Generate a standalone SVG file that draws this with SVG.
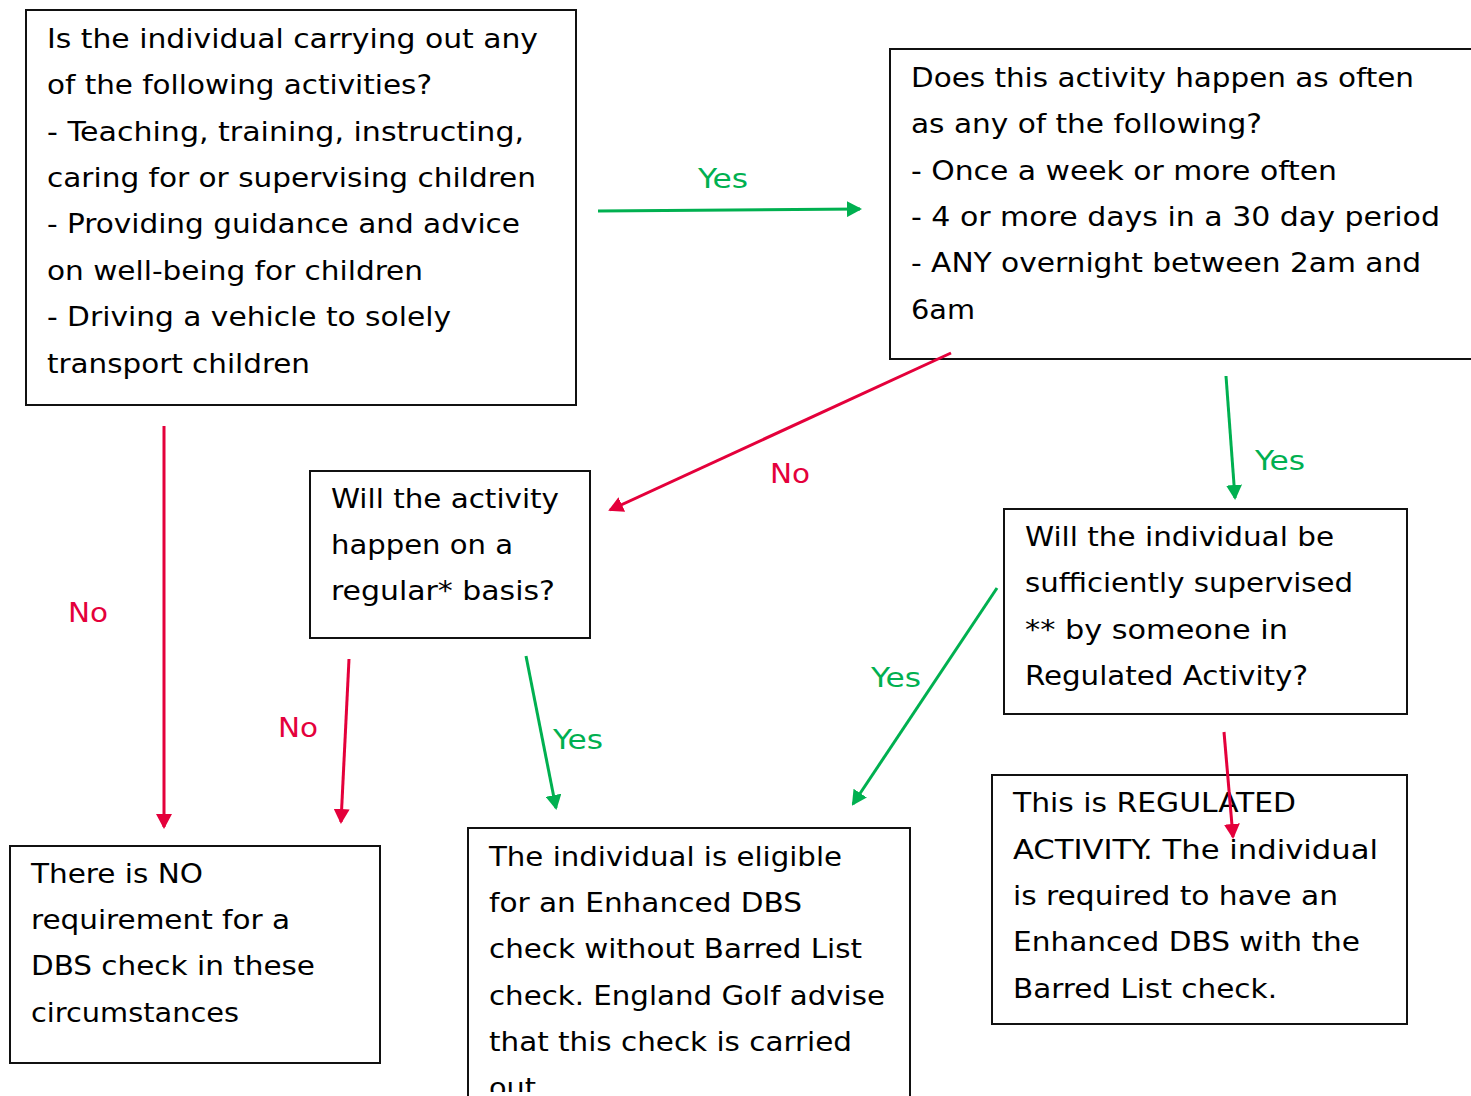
<svg xmlns="http://www.w3.org/2000/svg" width="1471" height="1096" viewBox="0 0 1471 1096">
<style>
.box{fill:#fff;stroke:#111;stroke-width:2}
.t{font-family:"DejaVu Sans Condensed","DejaVu Sans","Liberation Sans",sans-serif;font-size:26px;fill:#000}
.lbl{font-family:"DejaVu Sans Condensed","DejaVu Sans","Liberation Sans",sans-serif;font-size:26px}
.g{fill:#00B050}
.r{fill:#E4003B}
.lg{stroke:#00B050;stroke-width:3;fill:none}
.lr{stroke:#E4003B;stroke-width:3;fill:none}
</style>
<defs>
<marker id="ag" markerUnits="userSpaceOnUse" viewBox="0 0 15 16" markerWidth="15" markerHeight="16" refX="13" refY="8" orient="auto"><path d="M0,0 L15,8 L0,16 z" fill="#00B050"/></marker>
<marker id="ar" markerUnits="userSpaceOnUse" viewBox="0 0 15 16" markerWidth="15" markerHeight="16" refX="13" refY="8" orient="auto"><path d="M0,0 L15,8 L0,16 z" fill="#E4003B"/></marker>
<clipPath id="clip6"><rect x="460" y="820" width="460" height="272"/></clipPath>
</defs>
<rect width="1471" height="1096" fill="#fff"/>

<g id="n1">
<rect class="box" x="26" y="10" width="550" height="395"/>
<text class="t" x="47" y="48" textLength="491" lengthAdjust="spacingAndGlyphs">Is the individual carrying out any</text>
<text class="t" x="47" y="94" textLength="385" lengthAdjust="spacingAndGlyphs">of the following activities?</text>
<text class="t" x="47" y="141" textLength="477" lengthAdjust="spacingAndGlyphs">- Teaching, training, instructing,</text>
<text class="t" x="47" y="187" textLength="489" lengthAdjust="spacingAndGlyphs">caring for or supervising children</text>
<text class="t" x="47" y="233" textLength="473" lengthAdjust="spacingAndGlyphs">- Providing guidance and advice</text>
<text class="t" x="47" y="280" textLength="376" lengthAdjust="spacingAndGlyphs">on well-being for children</text>
<text class="t" x="47" y="326" textLength="404" lengthAdjust="spacingAndGlyphs">- Driving a vehicle to solely</text>
<text class="t" x="47" y="373" textLength="263" lengthAdjust="spacingAndGlyphs">transport children</text>
</g>

<g id="n2">
<rect class="box" x="890" y="49" width="590" height="310"/>
<text class="t" x="911" y="87" textLength="503" lengthAdjust="spacingAndGlyphs">Does this activity happen as often</text>
<text class="t" x="911" y="133" textLength="351" lengthAdjust="spacingAndGlyphs">as any of the following?</text>
<text class="t" x="911" y="180" textLength="426" lengthAdjust="spacingAndGlyphs">- Once a week or more often</text>
<text class="t" x="911" y="226" textLength="529" lengthAdjust="spacingAndGlyphs">- 4 or more days in a 30 day period</text>
<text class="t" x="911" y="272" textLength="510" lengthAdjust="spacingAndGlyphs">- ANY overnight between 2am and</text>
<text class="t" x="911" y="319" textLength="64" lengthAdjust="spacingAndGlyphs">6am</text>
</g>

<g id="n3">
<rect class="box" x="310" y="471" width="280" height="167"/>
<text class="t" x="331" y="508" textLength="228" lengthAdjust="spacingAndGlyphs">Will the activity</text>
<text class="t" x="331" y="554" textLength="182" lengthAdjust="spacingAndGlyphs">happen on a</text>
<text class="t" x="331" y="600" textLength="224" lengthAdjust="spacingAndGlyphs">regular* basis?</text>
</g>

<g id="n4">
<rect class="box" x="1004" y="509" width="403" height="205"/>
<text class="t" x="1025" y="546" textLength="309" lengthAdjust="spacingAndGlyphs">Will the individual be</text>
<text class="t" x="1025" y="592" textLength="328" lengthAdjust="spacingAndGlyphs">sufficiently supervised</text>
<text class="t" x="1025" y="639" textLength="263" lengthAdjust="spacingAndGlyphs">** by someone in</text>
<text class="t" x="1025" y="685" textLength="283" lengthAdjust="spacingAndGlyphs">Regulated Activity?</text>
</g>

<g id="n5">
<rect class="box" x="10" y="846" width="370" height="217"/>
<text class="t" x="31" y="883" textLength="172" lengthAdjust="spacingAndGlyphs">There is NO</text>
<text class="t" x="31" y="929" textLength="259" lengthAdjust="spacingAndGlyphs">requirement for a</text>
<text class="t" x="31" y="975" textLength="284" lengthAdjust="spacingAndGlyphs">DBS check in these</text>
<text class="t" x="31" y="1022" textLength="208" lengthAdjust="spacingAndGlyphs">circumstances</text>
</g>

<g id="n6">
<rect class="box" x="468" y="828" width="442" height="280"/>
<g clip-path="url(#clip6)">
<text class="t" x="489" y="866" textLength="353" lengthAdjust="spacingAndGlyphs">The individual is eligible</text>
<text class="t" x="489" y="912" textLength="313" lengthAdjust="spacingAndGlyphs">for an Enhanced DBS</text>
<text class="t" x="489" y="958" textLength="373" lengthAdjust="spacingAndGlyphs">check without Barred List</text>
<text class="t" x="489" y="1005" textLength="396" lengthAdjust="spacingAndGlyphs">check. England Golf advise</text>
<text class="t" x="489" y="1051" textLength="363" lengthAdjust="spacingAndGlyphs">that this check is carried</text>
<text class="t" x="489" y="1097" textLength="47" lengthAdjust="spacingAndGlyphs">out</text>
</g>
</g>

<g id="n7">
<rect class="box" x="992" y="775" width="415" height="249"/>
<text class="t" x="1013" y="812" textLength="283" lengthAdjust="spacingAndGlyphs">This is REGULATED</text>
<text class="t" x="1013" y="859" textLength="365" lengthAdjust="spacingAndGlyphs">ACTIVITY. The individual</text>
<text class="t" x="1013" y="905" textLength="325" lengthAdjust="spacingAndGlyphs">is required to have an</text>
<text class="t" x="1013" y="951" textLength="347" lengthAdjust="spacingAndGlyphs">Enhanced DBS with the</text>
<text class="t" x="1013" y="998" textLength="264" lengthAdjust="spacingAndGlyphs">Barred List check.</text>
</g>

<g id="connectors">
<line class="lg" x1="598" y1="211" x2="860" y2="209" marker-end="url(#ag)"/>
<text class="lbl g" x="698" y="188" textLength="50" lengthAdjust="spacingAndGlyphs">Yes</text>
<line class="lr" x1="951" y1="353" x2="610" y2="510" marker-end="url(#ar)"/>
<text class="lbl r" x="770" y="483" textLength="40" lengthAdjust="spacingAndGlyphs">No</text>
<line class="lg" x1="1226" y1="376" x2="1235" y2="498" marker-end="url(#ag)"/>
<text class="lbl g" x="1255" y="470" textLength="50" lengthAdjust="spacingAndGlyphs">Yes</text>
<line class="lr" x1="164" y1="426" x2="164" y2="827" marker-end="url(#ar)"/>
<text class="lbl r" x="68" y="622" textLength="40" lengthAdjust="spacingAndGlyphs">No</text>
<line class="lr" x1="349" y1="659" x2="341" y2="822" marker-end="url(#ar)"/>
<text class="lbl r" x="278" y="737" textLength="40" lengthAdjust="spacingAndGlyphs">No</text>
<line class="lg" x1="526" y1="656" x2="556" y2="808" marker-end="url(#ag)"/>
<text class="lbl g" x="553" y="749" textLength="50" lengthAdjust="spacingAndGlyphs">Yes</text>
<line class="lg" x1="997" y1="588" x2="853" y2="804" marker-end="url(#ag)"/>
<text class="lbl g" x="871" y="687" textLength="50" lengthAdjust="spacingAndGlyphs">Yes</text>
<line class="lr" x1="1224" y1="732" x2="1233" y2="837" marker-end="url(#ar)"/>
</g>
</svg>
